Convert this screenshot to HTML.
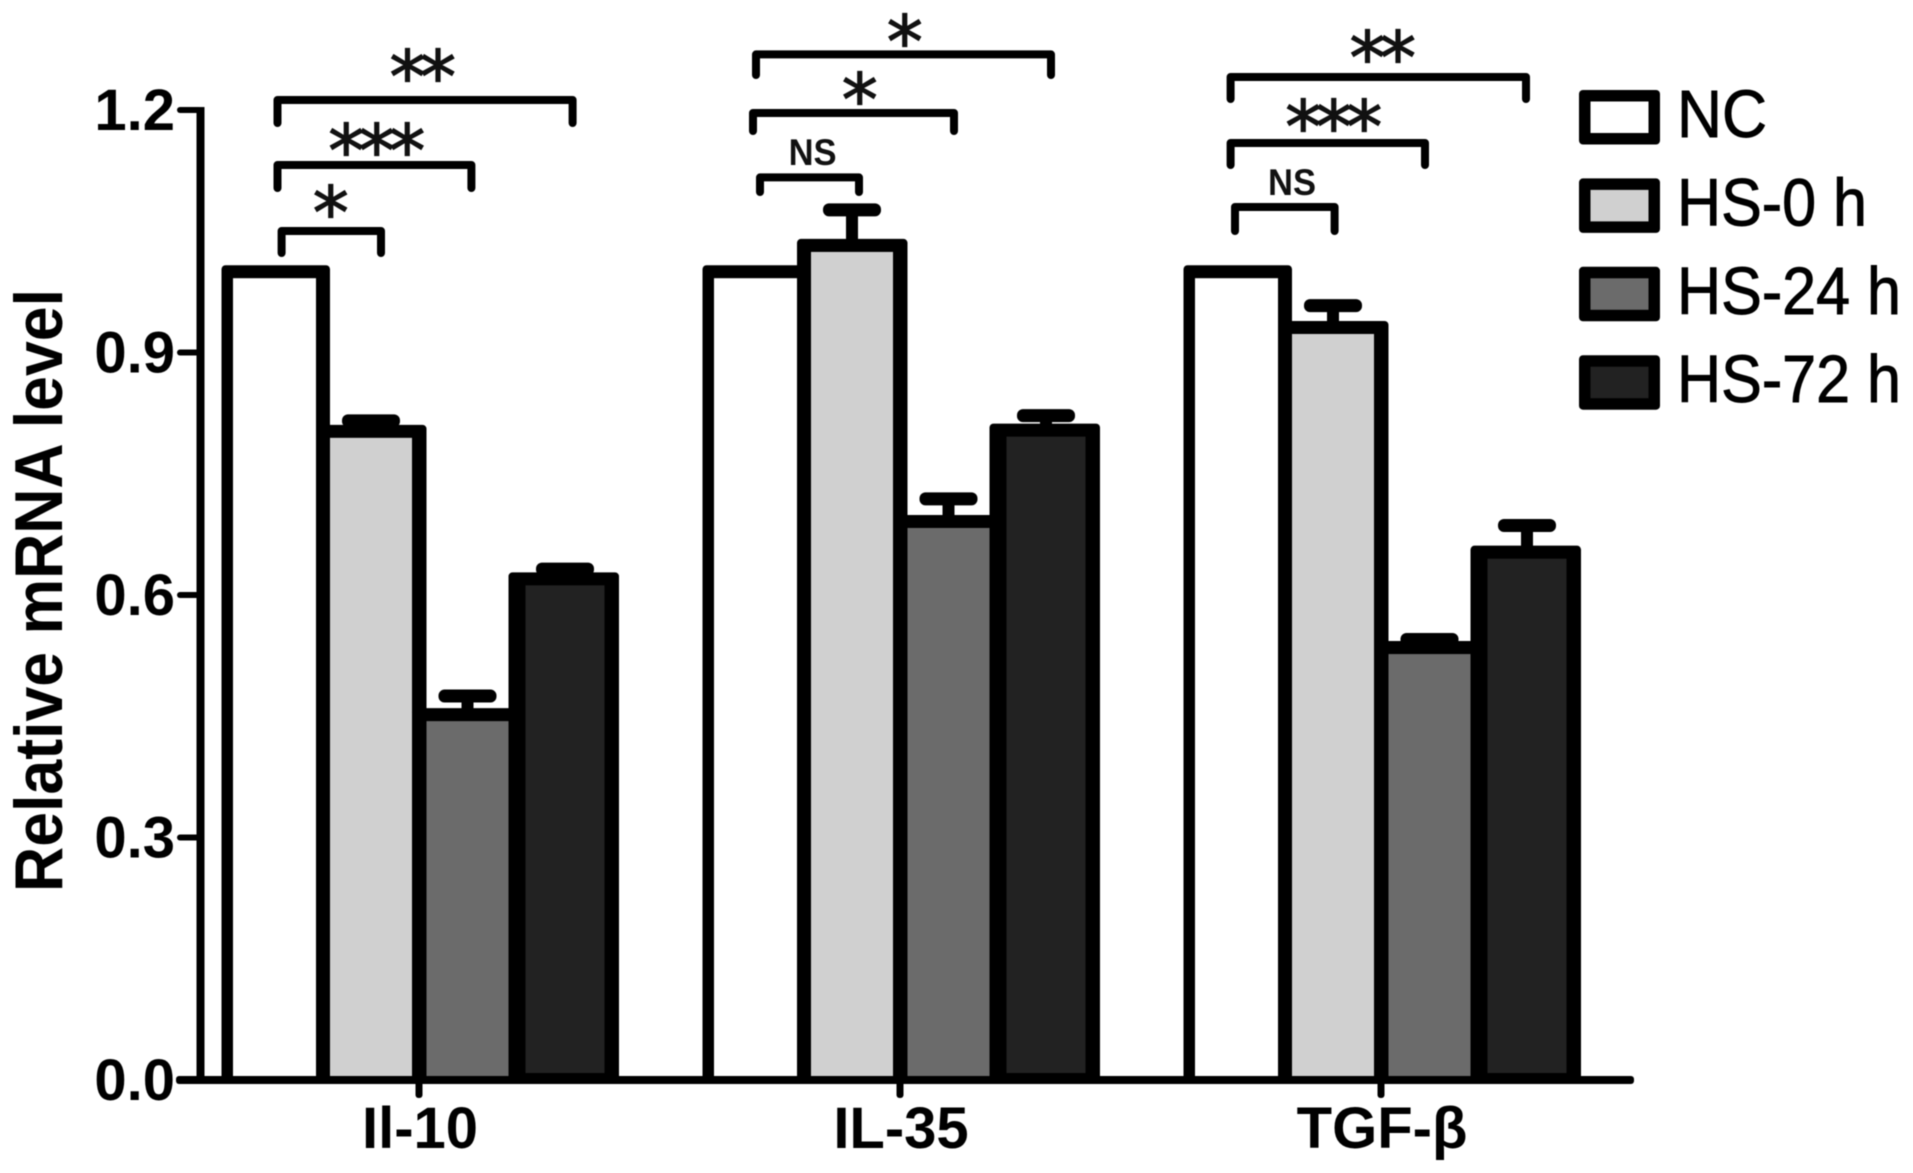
<!DOCTYPE html>
<html lang="en">
<head>
<meta charset="utf-8">
<title>Relative mRNA level chart</title>
<style>
html,body{margin:0;padding:0;background:#fff;}
#chart{display:block;width:1913px;height:1173px;filter:blur(0.6px);}
text{font-family:"Liberation Sans",sans-serif;fill:#000;}
.tick{font-weight:700;font-size:58px;}
.star{font-family:"DejaVu Sans","Liberation Sans",sans-serif;font-size:72px;fill:#111;stroke:#111;stroke-width:1.2px;letter-spacing:-5.5px;text-anchor:middle;}
.ns{font-weight:700;font-size:37px;fill:#111;text-anchor:middle;}
.legend-text{stroke:#000;stroke-width:0.9px;}
.bracket{fill:none;stroke:#000;stroke-width:8;stroke-linecap:round;stroke-linejoin:round;}
</style>
</head>
<body>
<svg id="chart" xmlns="http://www.w3.org/2000/svg" width="1913" height="1173" viewBox="0 0 1913 1173">
  <rect x="0" y="0" width="1913" height="1173" fill="#fff"/>
  <g id="bars"></g>
  <g id="axes"></g>
  <text transform="translate(62,892) rotate(-90)" font-weight="700" font-size="68" textLength="603" lengthAdjust="spacingAndGlyphs">Relative mRNA level</text>
  <g id="annotations">
    <path class="bracket" d="M277.5 123V100H572.6V123"/>
    <text class="star" x="420" y="102">**</text>
    <path class="bracket" d="M277.5 188V165H471.4V188"/>
    <text class="star" x="374" y="176">***</text>
    <path class="bracket" d="M281.6 253V231H381V253"/>
    <text class="star" x="328" y="238">*</text>

    <path class="bracket" d="M756 75V54.4H1051V75"/>
    <text class="star" x="902" y="67">*</text>
    <path class="bracket" d="M753 131V113H954V131"/>
    <text class="star" x="857" y="125">*</text>
    <path class="bracket" d="M760 192V177.4H859V192"/>
    <text class="ns" x="812.6" y="165" textLength="48" lengthAdjust="spacingAndGlyphs">NS</text>

    <path class="bracket" d="M1230.6 99V77H1526V99"/>
    <text class="star" x="1380" y="83">**</text>
    <path class="bracket" d="M1230.6 165V143H1425V165"/>
    <text class="star" x="1331" y="152">***</text>
    <path class="bracket" d="M1235 231V207H1334.6V231"/>
    <text class="ns" x="1292" y="195" textLength="48" lengthAdjust="spacingAndGlyphs">NS</text>
  </g>
  <g id="legend"></g>
</svg>
<script>
const categories = ["Il-10", "IL-35", "TGF-β"];
const seriesNames = ["NC", "HS-0 h", "HS-24 h", "HS-72 h"];
const ncValues = [1.0, 1.0, 1.0];
const hs0Values = [0.8025, 1.0325, 0.931];
const hs24Values = [0.452, 0.691, 0.535];
const hs72Values = [0.62, 0.804, 0.653];
const ncErrors = [0, 0, 0];
const hs0Errors = [0.013, 0.044, 0.027];
const hs24Errors = [0.023, 0.028, 0.010];
const hs72Errors = [0.012, 0.018, 0.033];
const yTickValues = [0.0, 0.3, 0.6, 0.9, 1.2];
const yTickLabels = ["0.0", "0.3", "0.6", "0.9", "1.2"];

const seriesValues = [ncValues, hs0Values, hs24Values, hs72Values];
const seriesErrors = [ncErrors, hs0Errors, hs24Errors, hs72Errors];
const seriesFills = ["#ffffff", "#d0d0d0", "#6b6b6b", "#222222"];
const legendTextWidths = [90, 190, 224, 224];

const NS = "http://www.w3.org/2000/svg";
const Y0 = 1080, Y_SLOPE = 808.3;
const yScale = v => Y0 - v * Y_SLOPE;
const groupX = i => 221.5 + i * 481;
const outerLeft = [0, 94.5, 190.5, 287];
const outerRight = [108.5, 205, 304, 397.5];
const innerLeft = [11.5, 108.5, 205, 304];
const innerRight = [94.5, 190.5, 287, 383];

function mk(parent, tag, attrs, text) {
  const el = document.createElementNS(NS, tag);
  for (const k in attrs) el.setAttribute(k, attrs[k]);
  if (text !== undefined) el.textContent = text;
  parent.appendChild(el);
  return el;
}
const slug = s => s.toLowerCase().replace(/β/g, "b").replace(/[^a-z0-9]+/g, "-");

const barsG = document.getElementById("bars");
const axesG = document.getElementById("axes");
const legendG = document.getElementById("legend");

categories.forEach((cat, c) => {
  seriesNames.forEach((name, s) => {
    const v = seriesValues[s][c];
    const err = seriesErrors[s][c];
    const sx = groupX(c);
    const top = yScale(v);
    const xl = sx + innerLeft[s];
    const xr = sx + innerRight[s];
    const cx = (xl + xr) / 2;
    const id = slug(cat) + "-" + slug(name);
    if (err > 0) {
      const capY = yScale(v + err);
      const stem = mk(barsG, "rect", {x: cx - 6, y: capY, width: 12, height: top - capY, fill: "#000"});
      
      
      const cap = mk(barsG, "rect", {x: cx - 29, y: capY - 6.5, width: 58, height: 13, rx: 6, fill: "#000"});
      
      
    }
    const outer = mk(barsG, "rect", {x: sx + outerLeft[s], y: top - 6.5, width: outerRight[s] - outerLeft[s], height: Y0 - top + 6.5, rx: 4, fill: "#000"});
    
    
    const inner = mk(barsG, "rect", {x: xl, y: top + 6.5, width: xr - xl, height: Math.max(0, Y0 - (s === 3 ? 7 : 4) - top - 6.5), fill: seriesFills[s]});
    
    
  });
});

const yAxisLine = mk(axesG, "rect", {x: 196.5, y: yScale(1.2) - 3, width: 8, height: Y0 - yScale(1.2) + 3, fill: "#000"});


const xAxisLine = mk(axesG, "rect", {x: 176, y: Y0 - 4, width: 1458, height: 8, rx: 3, fill: "#000"});



yTickValues.forEach((v, i) => {
  const y = yScale(v);
  const t = mk(axesG, "rect", {x: 177, y: y - 3, width: 24, height: 6, rx: 3, fill: "#000"});
  
  
  const l = mk(axesG, "text", {x: 175, y: y + 20, "text-anchor": "end", class: "tick"}, yTickLabels[i]);
  
  
});

categories.forEach((cat, c) => {
  const cx = groupX(c) + 197.5;
  const t = mk(axesG, "rect", {x: cx - 3.5, y: Y0, width: 7, height: 18, rx: 3, fill: "#000"});
  
  
  const l = mk(axesG, "text", {x: cx + 1, y: 1148, "text-anchor": "middle", class: "tick"}, cat);
  
  
});

seriesNames.forEach((name, s) => {
  const top = 90 + s * 88.4;
  const g = mk(legendG, "g", {});
  
  
  const o = mk(g, "rect", {x: 1579, y: top, width: 81, height: 54.5, rx: 4, fill: "#000"});
  
  
  const f = mk(g, "rect", {x: 1590.5, y: top + 11.5, width: 58, height: 31.5, fill: seriesFills[s]});
  
  
  const t = mk(g, "text", {x: 1677, y: top + 47, "font-size": 67, textLength: legendTextWidths[s], lengthAdjust: "spacingAndGlyphs", class: "legend-text"}, name);
  
  
});
</script>
</body>
</html>
